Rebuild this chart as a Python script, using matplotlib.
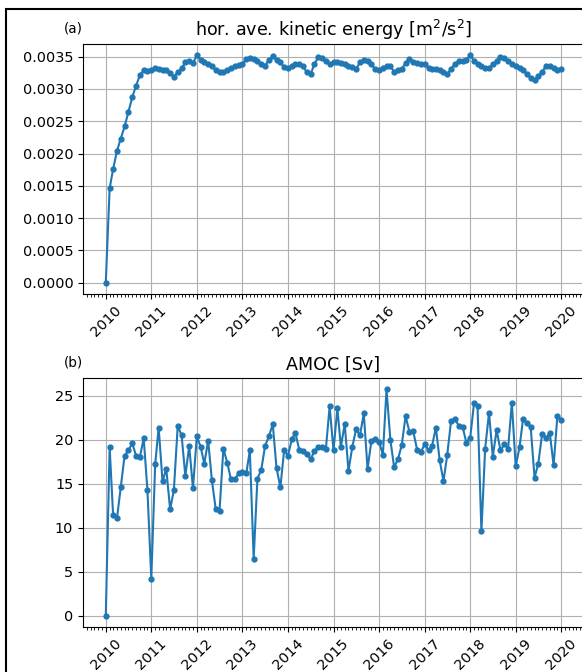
import numpy as np
import pandas as pd
import matplotlib
matplotlib.use('Agg')
import matplotlib.pyplot as plt
import matplotlib.dates as mdates
from matplotlib.patches import Rectangle

# monthly time axis, Jan 2010 .. Jan 2020
dates = pd.date_range('2010-01-01', periods=121, freq='MS')

# horizontally averaged kinetic energy [m2/s2]
ke = [0.0, 0.00146, 0.00176, 0.00204, 0.00223, 0.00242, 0.00264, 0.00287, 0.00305, 0.00321, 0.00329, 0.00328,
      0.00329, 0.00332, 0.00331, 0.00330, 0.00329, 0.00325, 0.00319, 0.00326, 0.00332, 0.00341, 0.00343, 0.00340,
      0.00352, 0.00345, 0.00342, 0.00339, 0.00336, 0.00329, 0.00326, 0.00326, 0.00329, 0.00332, 0.00335, 0.00337,
      0.00338, 0.00347, 0.00348, 0.00347, 0.00343, 0.00338, 0.00336, 0.00345, 0.00351, 0.00345, 0.00341, 0.00334,
      0.00332, 0.00336, 0.00338, 0.00338, 0.00335, 0.00326, 0.00323, 0.00338, 0.00350, 0.00348, 0.00343, 0.00338,
      0.00342, 0.00341, 0.00340, 0.00339, 0.00336, 0.00334, 0.00331, 0.00341, 0.00345, 0.00344, 0.00338, 0.00331,
      0.00330, 0.00332, 0.00335, 0.00336, 0.00326, 0.00330, 0.00331, 0.00340, 0.00347, 0.00342, 0.00340, 0.00339,
      0.00339, 0.00332, 0.00331, 0.00331, 0.00329, 0.00326, 0.00323, 0.00331, 0.00339, 0.00343, 0.00344, 0.00345,
      0.00352, 0.00344, 0.00338, 0.00335, 0.00333, 0.00332, 0.00338, 0.00344, 0.00350, 0.00348, 0.00344, 0.00339,
      0.00335, 0.00332, 0.00330, 0.00323, 0.00317, 0.00314, 0.00320, 0.00327, 0.00335, 0.00336, 0.00332, 0.00330,
      0.00331]

# AMOC [Sv]
amoc = [0.0, 19.15, 11.4, 11.1, 14.6, 18.2, 18.8, 19.6, 18.2, 18.0, 20.2, 14.3,
        4.2, 17.2, 21.4, 15.3, 16.7, 12.1, 14.3, 21.6, 20.5, 15.9, 19.3, 14.5,
        20.4, 19.2, 17.3, 19.9, 15.4, 12.1, 11.9, 19.0, 17.4, 15.5, 15.5, 16.2,
        16.4, 16.2, 18.8, 6.5, 15.6, 16.6, 19.3, 20.4, 21.8, 16.8, 14.6, 18.8,
        18.2, 20.1, 20.8, 18.9, 18.7, 18.4, 17.8, 18.7, 19.2, 19.2, 19.0, 23.8,
        18.8, 23.6, 19.2, 21.8, 16.5, 19.2, 21.2, 20.5, 23.0, 16.7, 19.9, 20.1,
        19.8, 18.3, 25.75, 20.0, 16.9, 17.8, 19.4, 22.7, 20.9, 21.0, 18.9, 18.6,
        19.5, 18.8, 19.3, 21.4, 17.7, 15.3, 18.3, 22.2, 22.4, 21.6, 21.5, 19.7,
        20.2, 24.2, 23.8, 9.6, 19.0, 23.1, 18.1, 21.1, 18.8, 19.5, 19.0, 24.2,
        17.0, 19.2, 22.4, 21.9, 21.5, 15.7, 17.3, 20.7, 20.2, 20.8, 17.1, 22.7,
        22.3]

W, H = 582, 672
fig = plt.figure(figsize=(W / 100, H / 100), dpi=100)

# figure border (partly outside the canvas)
fig.patches.append(Rectangle((6 / W, -1), 2, 2 - 9 / H, transform=fig.transFigure,
                             fill=False, ec='k', lw=1.5))

ax1 = fig.add_axes([83 / W, 1 - 294 / H, 501 / W, 250 / H])
ax2 = fig.add_axes([83 / W, 1 - 627 / H, 501 / W, 249 / H])

panels = [(ax1, ke, 'hor. ave. kinetic energy [m$^2$/s$^2$]', '(a)'),
          (ax2, amoc, 'AMOC [Sv]', '(b)')]

for ax, vals, title, lab in panels:
    ax.plot(dates, vals, '-o', color='C0', lw=1.5, ms=3.5)
    ax.xaxis.set_major_locator(mdates.YearLocator())
    ax.xaxis.set_minor_locator(mdates.MonthLocator())
    ax.xaxis.set_major_formatter(mdates.DateFormatter('%Y'))
    ax.grid(True)
    ax.tick_params(labelsize=10.4)
    for t in ax.get_xticklabels():
        t.set_rotation(45)
        t.set_ha('center')
    ax.set_title(title, fontsize=12.6)
    ax.text(-0.038, 1.035, lab, transform=ax.transAxes, ha='left', va='bottom', fontsize=9.8)

fig.savefig('out.png', dpi=100)
